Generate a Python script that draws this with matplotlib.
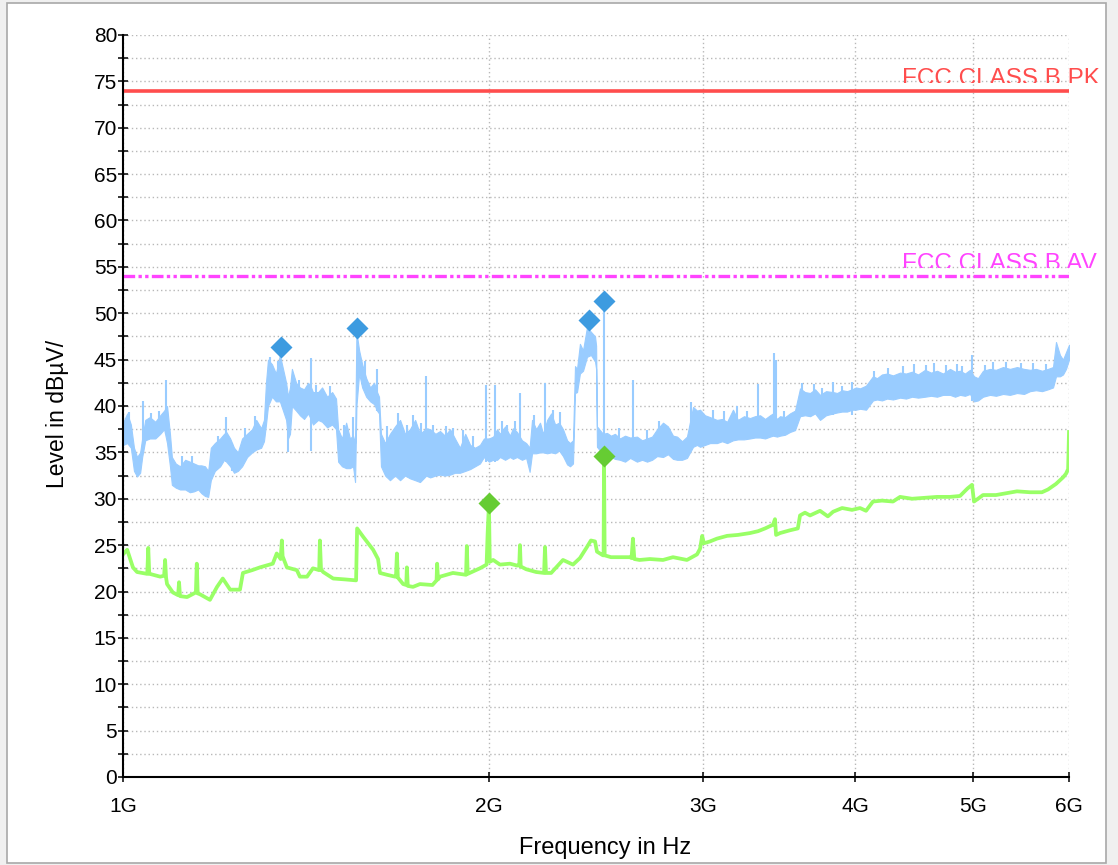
import numpy as np
import matplotlib
matplotlib.use("Agg")
import matplotlib.pyplot as plt
from matplotlib.patches import Rectangle
from matplotlib.ticker import FixedLocator, NullLocator, MultipleLocator
from matplotlib.transforms import Bbox, TransformedBbox, blended_transform_factory

plt.rcParams['font.family'] = ['Liberation Sans', 'DejaVu Sans']

# ---- peak trace (blue): envelope of the noisy band, MHz / dBuV ----
pk_freq = [1000, 1008, 1015, 1021, 1027, 1033, 1037, 1043, 1052, 1063, 1073, 1081, 1087, 1093, 1097,
           1105, 1114, 1125, 1135, 1144, 1153, 1160, 1168, 1175, 1181, 1190, 1202, 1211, 1216, 1225,
           1234, 1243, 1253, 1265, 1277, 1287, 1299, 1306, 1311, 1316, 1326, 1336, 1346, 1354, 1362,
           1367, 1372, 1377, 1388, 1398, 1409, 1420, 1428, 1433, 1447, 1458, 1472, 1486, 1497, 1503,
           1514, 1526, 1537, 1546, 1552, 1556, 1564, 1573, 1585, 1597, 1609, 1618, 1624, 1630, 1643,
           1658, 1674, 1690, 1706, 1722, 1739, 1755, 1776, 1789, 1807, 1823, 1840, 1858, 1875, 1893,
           1912, 1930, 1948, 1966, 1981,
           2000, 2016, 2031, 2042, 2062, 2081, 2093, 2109, 2129, 2146, 2160, 2170, 2187, 2203, 2216,
           2233, 2250, 2267, 2284, 2301, 2319, 2332, 2345, 2354, 2363, 2376, 2390, 2408, 2426, 2445,
           2450, 2454, 2468, 2482, 2501, 2520, 2539, 2563, 2588, 2613, 2647, 2673, 2698, 2724, 2750,
           2781, 2807, 2834, 2856, 2883, 2910, 2944, 2966, 2983,
           3011, 3040, 3080, 3110, 3140, 3175, 3205, 3242, 3279, 3310, 3342, 3374, 3406, 3425, 3451,
           3471, 3504, 3537, 3571, 3605, 3639, 3674, 3709, 3744, 3787, 3838, 3867, 3904, 3941, 3978,
           4008, 4039, 4085, 4139, 4171, 4210, 4251, 4299, 4357, 4406, 4457, 4508, 4568, 4620, 4673,
           4726, 4789, 4835, 4881, 4927, 4974, 5012, 5050, 5098, 5166, 5225, 5295, 5365, 5437, 5510,
           5573, 5636, 5701, 5766, 5821, 5854, 5898, 5932, 5966, 6000]
pk_hi = [38.2, 39.2, 38.0, 35.5, 34.5, 35.0, 36.5, 38.5, 38.8, 38.3, 39.0, 39.5, 40.0, 37.0, 34.5,
         33.8, 33.5, 34.2, 34.0, 33.8, 33.6, 33.6, 33.5, 33.0, 35.5, 36.0, 36.5, 37.0, 37.2, 36.5,
         35.5, 35.0, 36.5, 37.0, 37.5, 38.5, 37.6, 38.5, 42.5, 45.0, 44.5, 43.5, 45.5, 44.0, 42.5,
         41.0, 42.0, 44.0, 42.5, 42.0, 41.8, 42.5, 42.0, 41.5, 41.5, 42.0, 41.0, 41.5, 40.8, 37.5,
         36.5, 38.2, 36.5, 36.8, 36.0, 48.0, 46.0, 44.5, 43.0, 42.0, 42.5, 41.5, 41.0, 37.0, 36.0,
         37.0, 37.8, 38.5, 37.0, 37.5, 38.5, 37.0, 37.6, 37.5, 37.0, 37.3, 36.8, 37.5, 36.5, 35.5,
         37.0, 35.8, 35.5, 35.8, 36.5,
         36.5, 36.7, 37.5, 37.0, 37.8, 36.8, 37.6, 37.2, 36.3, 36.0, 35.5, 38.5, 37.5, 38.2, 37.0,
         38.5, 39.2, 38.0, 38.2, 37.5, 36.3, 36.0, 36.3, 44.3, 44.0, 46.7, 46.0, 48.5, 48.0, 47.5,
         46.5, 37.8, 37.4, 37.0, 37.1, 36.8, 37.0, 36.5, 36.8, 36.6, 36.7, 36.3, 36.5, 36.7, 37.5,
         38.2, 37.8, 36.8, 36.7, 36.2, 36.7, 39.9, 39.5, 39.6,
         39.0, 38.8, 38.5, 38.6, 38.3, 39.6, 38.5, 38.9, 38.7, 38.9, 39.0, 38.6, 39.0, 39.2, 38.6,
         38.9, 38.8, 39.2, 39.5, 41.9, 41.5, 41.4, 41.8, 41.2, 41.6, 41.5, 41.4, 41.7, 41.6, 41.8,
         42.0, 41.9, 42.2, 43.2, 43.0, 43.4, 43.5, 43.3, 43.6, 43.5, 43.7, 43.4, 43.9, 43.6, 43.8,
         43.5, 44.0, 43.7, 43.8, 43.5, 43.9, 43.2, 43.0, 43.8, 44.0, 43.9, 44.2, 44.0, 44.2, 44.0,
         43.9, 44.0, 43.8, 44.0, 44.2, 46.9, 45.5, 45.0, 45.8, 46.6]
pk_lo = [35.8, 36.0, 35.5, 33.0, 32.4, 32.8, 34.5, 36.3, 36.5, 36.5, 37.0, 37.5, 36.0, 33.5, 31.5,
         31.2, 31.0, 31.0, 30.7, 30.8, 31.0, 30.6, 30.3, 30.2, 32.0, 33.0, 33.5, 34.2, 34.0, 33.5,
         32.8, 33.0, 33.5, 34.5, 35.0, 35.3, 35.5, 36.2, 38.0, 40.0, 41.0, 40.5, 40.5, 39.5, 38.5,
         36.5, 37.0, 40.0, 39.5, 39.0, 38.6, 39.2, 38.5, 38.0, 38.5, 38.3, 37.7, 38.0, 37.5, 34.0,
         33.5, 33.3, 33.3, 33.5, 31.8, 40.0, 43.5, 42.0, 41.0, 40.5, 40.2, 39.5, 39.2, 33.5, 32.5,
         32.0, 32.5, 32.0, 32.5, 32.2, 32.0, 31.8, 32.5, 32.3, 32.5, 32.6, 32.5, 32.6, 32.8, 32.8,
         33.0, 33.2, 33.5, 33.8, 34.5,
         34.0, 34.2, 34.2, 34.5, 34.2, 34.5, 34.3, 34.5, 34.2, 34.4, 32.9, 34.9, 34.9, 35.0, 35.0,
         34.9, 35.0, 34.9, 35.2, 34.6, 33.7, 33.5, 33.8, 41.4, 41.5, 43.5, 43.8, 45.3, 45.5, 44.8,
         44.0, 35.6, 35.2, 35.2, 34.2, 34.5, 34.3, 34.2, 34.0, 34.4, 34.0, 34.2, 34.0, 34.2, 34.6,
         34.5, 34.8, 34.3, 34.2, 34.2, 34.4, 35.6, 35.8, 35.6,
         35.8, 36.0, 36.0, 36.2, 36.0, 36.3, 36.4, 36.4, 36.5, 36.6, 36.6, 36.5, 36.7, 36.8, 36.7,
         36.8, 36.9, 37.2, 37.4, 38.9, 39.0, 38.9, 39.2, 38.5, 39.0, 39.2, 39.3, 39.4, 39.4, 39.6,
         39.6, 39.7, 39.6, 40.6, 40.7, 40.6, 40.8, 40.7, 40.9, 40.8, 41.0, 40.9, 41.0, 41.1, 41.0,
         41.2, 41.2, 41.0, 41.2, 41.1, 41.3, 40.5, 40.6, 41.0, 41.2, 41.1, 41.3, 41.2, 41.4, 41.3,
         41.6, 41.7, 41.6, 41.8, 42.0, 43.2, 43.2, 43.4, 44.0, 45.0]

# narrow spikes on the peak trace
spk_freq = [1012, 1039, 1055, 1070, 1084, 1118, 1140, 1198, 1216, 1230, 1260, 1283, 1320, 1340,
            1367, 1395, 1428, 1440, 1480, 1520, 1546, 1580, 1618, 1650, 1685, 1712, 1733, 1760,
            1776, 1800, 1845, 1870, 1905, 1940, 1988, 2023, 2050, 2070, 2100, 2121, 2180, 2224,
            2260, 2290, 2487, 2560, 2627, 2700, 2760, 2930, 3060, 3120, 3200, 3260, 3329, 3432,
            3445, 3500, 3620, 3700, 3760, 3838, 3900, 3978, 4150, 4260, 4380, 4470, 4580, 4650,
            4750, 4850, 4900, 4993, 5120, 5200, 5330, 5480, 5600, 5740]
spk_top = [39.3, 40.5, 39.2, 39.5, 42.8, 34.6, 34.6, 36.8, 38.8, 36.0, 37.6, 38.9, 45.3, 44.8,
           41.0, 42.8, 45.2, 42.3, 42.2, 38.0, 38.8, 44.8, 44.0, 37.8, 39.2, 38.0, 39.0, 38.2,
           43.2, 37.9, 37.8, 37.6, 37.4, 36.8, 42.3, 42.3, 38.4, 38.0, 38.4, 41.4, 39.0, 42.5,
           39.6, 39.4, 51.0, 37.6, 42.8, 37.4, 38.4, 40.4, 39.6, 39.5, 40.0, 39.5, 42.4, 45.7,
           45.0, 39.5, 42.5, 42.4, 41.9, 42.6, 42.2, 42.6, 43.8, 44.1, 44.3, 44.5, 44.4, 44.6,
           44.4, 44.5, 44.3, 45.5, 44.4, 44.7, 44.7, 44.6, 44.6, 44.5]
spk_base = [36.0, 35.0, 36.5, 37.0, 37.0, 31.0, 31.0, 33.5, 34.0, 33.0, 34.5, 35.5, 41.0, 40.5,
            35.0, 39.5, 35.2, 38.5, 38.0, 33.5, 33.5, 42.0, 39.5, 32.5, 32.5, 32.5, 32.5, 32.0,
            33.0, 32.5, 32.5, 32.8, 33.0, 33.5, 34.0, 34.0, 34.5, 34.5, 34.5, 34.5, 35.0, 35.0,
            35.0, 35.0, 35.0, 34.5, 35.0, 34.2, 34.5, 36.0, 36.0, 36.2, 36.3, 36.4, 36.5, 37.0,
            37.0, 37.0, 39.0, 39.2, 38.9, 39.0, 39.4, 39.0, 40.6, 40.8, 40.9, 41.0, 41.0, 41.0,
            41.2, 41.2, 41.1, 40.5, 41.0, 41.2, 41.3, 41.4, 41.6, 41.8]

# ---- average trace (green) ----
av_freq = [1000, 1008, 1019, 1027, 1047, 1049, 1051, 1052, 1073, 1081, 1083, 1085, 1087, 1099,
           1110, 1112, 1114, 1129, 1148, 1150, 1152, 1157, 1168, 1179, 1195, 1208, 1225, 1248,
           1255, 1277, 1296, 1328, 1338, 1348, 1351, 1353, 1364, 1390, 1398, 1417, 1433, 1450,
           1452, 1455, 1461, 1489, 1524, 1555, 1558, 1576, 1606, 1621, 1627, 1649, 1674, 1677,
           1680, 1683, 1700, 1710, 1712, 1715, 1732, 1755, 1797, 1811, 1813, 1816, 1823, 1868,
           1915, 1918, 1921, 1966, 1991, 1995, 2000, 2003, 2016, 2042, 2081, 2109, 2118, 2121,
           2124, 2146, 2187, 2220, 2224, 2228, 2250, 2301, 2345, 2376, 2408, 2426, 2445, 2454,
           2482, 2485, 2487, 2490, 2520, 2613, 2620, 2627, 2634, 2660, 2713, 2781, 2834, 2910,
           2966, 2983, 2995, 3005, 3040, 3080, 3140, 3205, 3279, 3329, 3374, 3425, 3438, 3445,
           3471, 3537, 3590, 3605, 3639, 3674, 3744, 3800, 3838, 3904, 3978, 4039, 4085, 4139,
           4210, 4299, 4357, 4457, 4568, 4673, 4789, 4881, 4950, 4993, 5012, 5050, 5098, 5225,
           5330, 5437, 5573, 5700, 5766, 5854, 5932, 5966, 5990, 6000]
av_level = [24.0, 24.5, 22.6, 22.1, 21.9, 24.7, 21.9, 21.9, 21.6, 21.7, 23.4, 21.5, 20.8, 19.9,
            19.6, 21.0, 19.5, 19.4, 19.9, 23.0, 19.8, 19.7, 19.4, 19.1, 20.5, 21.4, 20.2, 20.2,
            22.0, 22.3, 22.6, 23.0, 24.1, 23.5, 25.5, 23.8, 22.6, 22.3, 21.6, 21.6, 22.5, 22.3,
            25.5, 22.4, 22.1, 21.4, 21.3, 21.2, 26.8, 25.9, 24.5, 23.5, 22.0, 21.8, 21.6, 21.6,
            24.1, 21.5, 20.8, 20.7, 22.6, 20.6, 20.5, 20.8, 20.7, 21.2, 23.0, 21.3, 21.6, 22.0,
            21.8, 24.9, 21.9, 22.5, 22.9, 26.3, 29.5, 23.2, 23.4, 22.9, 23.0, 22.8, 22.8, 25.0,
            22.7, 22.4, 22.1, 22.0, 24.8, 22.0, 22.0, 23.4, 22.9, 23.6, 24.8, 25.5, 25.4, 24.3,
            23.9, 23.9, 34.6, 23.9, 23.7, 23.7, 23.6, 25.7, 23.5, 23.4, 23.5, 23.4, 23.7, 23.4,
            24.0, 24.6, 26.0, 25.2, 25.4, 25.7, 26.0, 26.1, 26.3, 26.5, 26.8, 27.2, 27.8, 26.1,
            26.3, 26.6, 26.8, 28.2, 28.5, 28.2, 28.7, 28.1, 28.6, 29.0, 28.8, 29.0, 28.7, 29.7,
            29.8, 29.7, 30.2, 30.0, 30.1, 30.2, 30.2, 30.3, 31.1, 31.5, 29.7, 30.0, 30.4, 30.4,
            30.6, 30.8, 30.7, 30.7, 31.0, 31.6, 32.3, 32.7, 33.2, 37.2]

# final measurement markers
pk_mark_freq = [1349, 1557, 2416, 2487]
pk_mark_level = [46.4, 48.4, 49.3, 51.3]
av_mark_freq = [2000, 2487]
av_mark_level = [29.5, 34.6]

# limit lines
lim_pk = 74.0
lim_av = 54.0

y_ticks = list(range(0, 85, 5))
y_ticklabels = ['0', '5', '10', '15', '20', '25', '30', '35', '40', '45', '50', '55', '60', '65',
                '70', '75', '80']
x_ticks_ghz = [1, 2, 3, 4, 5, 6]
x_ticklabels = ['1G', '2G', '3G', '4G', '5G', '6G']

c_pk = '#99ccff'
c_pk_mark = '#3d9be0'
c_av = '#99ff66'
c_av_mark = '#66cc33'

fig = plt.figure(figsize=(11.18, 8.65), dpi=100)
fig.patch.set_facecolor('#f0f0f0')
fig.patches.append(Rectangle((7 / 1118, 2 / 865), 1099 / 1118, 860 / 865, transform=fig.transFigure,
                             facecolor='white', edgecolor='#a8a8a8', lw=1.2, zorder=-5))

ax = fig.add_axes([123 / 1118, 88 / 865, 946 / 1118, 742 / 865])
ax.set_facecolor('none')

f = np.array(pk_freq) * 1e6
ax.fill_between(f, pk_lo, pk_hi, color=c_pk, lw=0.8, zorder=3)
ax.vlines(np.array(spk_freq) * 1e6, spk_base, spk_top, color=c_pk, lw=1.5, zorder=3)
ax.plot(np.array(av_freq) * 1e6, av_level, color=c_av, lw=2.7, zorder=4)

ax.plot(np.array(pk_mark_freq) * 1e6, pk_mark_level, 'D', color=c_pk_mark, ms=11, mec='none', zorder=6)
ax.plot(np.array(av_mark_freq) * 1e6, av_mark_level, 'D', color=c_av_mark, ms=11, mec='none', zorder=6)

ax.axhline(lim_pk, color='#ff4d4d', lw=2.6, zorder=5)
ax.axhline(lim_av, color='#ff44ff', lw=2.4, dashes=(3.5, 1, 1, 1, 1, 1), zorder=5)

ax.set_xscale('log')
ax.set_xlim(1e9, 6e9)
ax.set_ylim(0, 80)

ax.xaxis.set_major_locator(FixedLocator([v * 1e9 for v in x_ticks_ghz]))
ax.xaxis.set_minor_locator(NullLocator())
ax.set_xticklabels(x_ticklabels)
ax.yaxis.set_major_locator(FixedLocator(y_ticks))
ax.yaxis.set_minor_locator(MultipleLocator(2.5))
ax.set_yticklabels(y_ticklabels)

ax.tick_params(which='both', direction='inout', length=7.5, width=1.1, color='black',
               labelsize=15, top=False, right=False)
ax.tick_params(axis='y', which='major', pad=0.5)
ax.tick_params(axis='x', which='major', pad=11)

for s in ['top', 'right']:
    ax.spines[s].set_visible(False)
for s in ['left', 'bottom']:
    ax.spines[s].set_linewidth(1.5)
    ax.spines[s].set_zorder(7)

ax.grid(True, which='both', axis='y', color='#b8b8b8', lw=1, linestyle=(0, (1, 2)), zorder=1)
ax.grid(True, which='major', axis='x', color='#b8b8b8', lw=1, linestyle=(0, (1, 2)), zorder=1)
ax.set_axisbelow(True)

ax.set_xlabel('Frequency in Hz', fontsize=17)
ax.xaxis.set_label_coords(0.5095, -0.081)
ax.set_ylabel('Level in dBµV/', fontsize=16.5)
ax.yaxis.set_label_coords(-0.057, 0.489)

# limit labels, bottoms clipped just above the lines
tr = blended_transform_factory(fig.transFigure, ax.transData)
for txt, base, cut, col in [('FCC CLASS B PK', 74.6, 74.8, '#ff4d4d'),
                            ('FCC CLASS B AV', 54.65, 54.85, '#ff44ff')]:
    t = fig.text(902 / 1118, base, txt, transform=tr, color=col, fontsize=17.5,
                 ha='left', va='baseline')
    t.set_clip_box(TransformedBbox(Bbox([[0, cut], [1, 95]]), tr))
    t.set_clip_on(True)

fig.savefig('out.png', dpi=100, facecolor=fig.get_facecolor())
